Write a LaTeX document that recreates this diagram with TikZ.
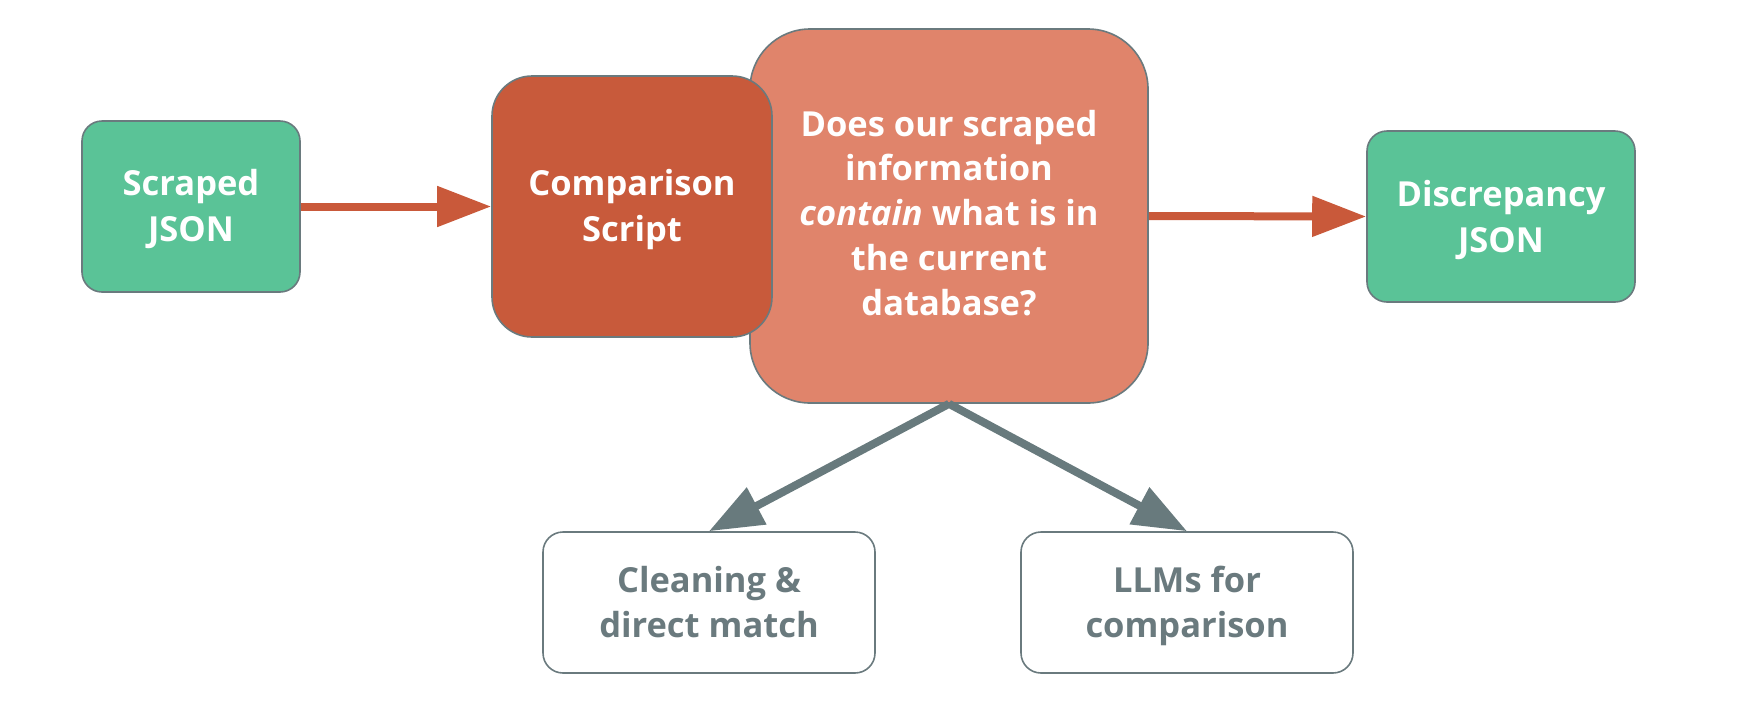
\documentclass[tikz,border=0pt]{standalone}
\usepackage{fontspec}
\setmainfont{Open Sans}
\usetikzlibrary{arrows.meta}
\definecolor{grn}{HTML}{5AC397}
\definecolor{cmpred}{HTML}{C85A3B}
\definecolor{bigred}{HTML}{E0846B}
\definecolor{bord}{HTML}{6A7A7E}
\definecolor{arrred}{HTML}{C9593A}
\definecolor{arrgray}{HTML}{687A7D}
% #1 = twice the distance from first baseline to box centre
\newcommand\txt[2]{\raisebox{0pt}[0pt][#1]{\begin{tabular}[t]{@{}c@{}}#2\end{tabular}}}
\begin{document}
\begin{tikzpicture}[x=1pt,y=-1pt,
  box/.style={draw=bord, line width=1.6pt, inner sep=0pt,
    font=\fontsize{34.5}{46.5}\selectfont\bfseries},
  greenbox/.style={box, fill=grn, text=white, rounded corners=20pt},
  outbox/.style={box, fill=white, text=bord, rounded corners=20pt,
    minimum width=332pt, minimum height=141pt, font=\fontsize{34.5}{45}\selectfont\bfseries},
  redarrow/.style={draw=arrred, line width=8pt, -{Triangle[length=54pt,width=39pt]}},
  grayarrow/.style={draw=arrgray, line width=8pt, -{Triangle[length=54pt,width=40pt]}}]
\useasboundingbox (0,0) rectangle (1742,716);
\node[greenbox, minimum width=218pt, minimum height=171pt] (scr) at (191,206.5) {\txt{23pt}{Scraped\\JSON}};
\node[box, fill=bigred, text=white, rounded corners=60pt, minimum width=398pt, minimum height=374pt,
  font=\fontsize{34.5}{44.8}\selectfont\bfseries] (big) at (949,216)
  {\txt{160pt}{Does our scraped\\information\\\textit{contain} what is in\\the current\\database?}};
\node[box, fill=cmpred, text=white, rounded corners=40pt, minimum width=280pt, minimum height=261pt] (cmp) at (632,206.5) {\txt{23pt}{Comparison\\Script}};
\node[greenbox, minimum width=268pt, minimum height=171pt] (disc) at (1501,216.5) {\txt{21pt}{Discrepancy\\JSON}};
\node[outbox] (clean) at (709,602.5) {\txt{21pt}{Cleaning \&\\direct match}};
\node[outbox] (llm) at (1187,602.5) {\txt{21pt}{LLMs for\\comparison}};
\draw[redarrow] (scr.east) -- (cmp.west);
\draw[redarrow] (big.east) -- (disc.west);
\draw[grayarrow] (big.south) -- (clean.north);
\draw[grayarrow] (big.south) -- (llm.north);
\end{tikzpicture}
\end{document}
